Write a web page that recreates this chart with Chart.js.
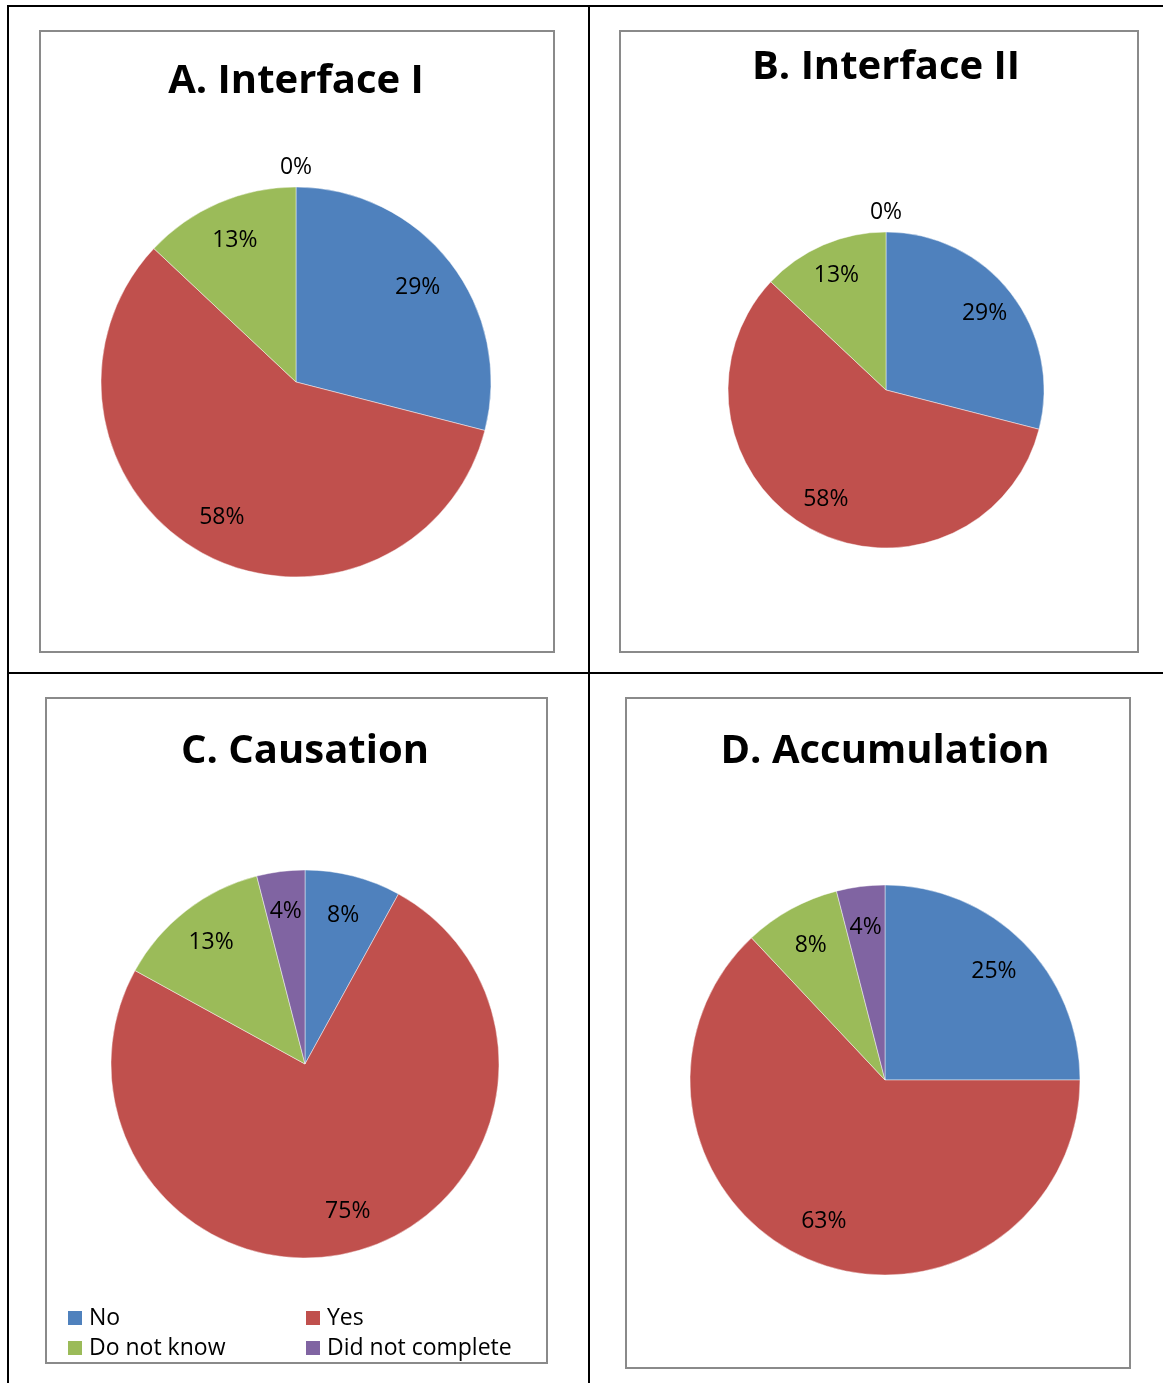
<!DOCTYPE html>
<html>
<head>
<meta charset="utf-8">
<title>Survey responses by task</title>
<script src="https://cdn.jsdelivr.net/npm/chart.js@4/dist/chart.umd.min.js"></script>
<style>
  html, body { margin: 0; padding: 0; background: #fff; }
  body { position: relative; width: 1163px; height: 1383px; overflow: hidden; }
  .rule { position: absolute; background: #000; }
  .panel { position: absolute; box-sizing: border-box; border: 2px solid #8a8a8a; background: #fff; }
  .panel canvas { display: block; }
</style>
</head>
<body>
<!-- table grid -->
<div class="rule" style="left:7px;top:5px;width:2px;height:1378px"></div>
<div class="rule" style="left:7px;top:5px;width:1156px;height:2px"></div>
<div class="rule" style="left:588px;top:5px;width:2px;height:1378px"></div>
<div class="rule" style="left:7px;top:672px;width:1156px;height:2px"></div>

<div class="panel" id="panelA"><canvas id="chartA"></canvas></div>
<div class="panel" id="panelB"><canvas id="chartB"></canvas></div>
<div class="panel" id="panelC"><canvas id="chartC"></canvas></div>
<div class="panel" id="panelD"><canvas id="chartD"></canvas></div>

<script>
// Response categories and the share (%) of participants in each
const categories = ['No', 'Yes', 'Do not know', 'Did not complete'];
const titles = ['A. Interface I', 'B. Interface II', 'C. Causation', 'D. Accumulation'];
const interfaceI   = [29, 58, 13, 0];
const interfaceII  = [29, 58, 13, 0];
const causation    = [8, 75, 13, 4];
const accumulation = [25, 63, 8, 4];
const sliceColors = ['#4F81BD', '#C0504D', '#9BBB59', '#8064A2'];

// Page placement of each framed chart: box = [left, top, width, height],
// titleY = title centre line, (cx, cy, r) = pie centre and radius.
const panels = [
  { canvas: 'chartA', panel: 'panelA', title: titles[0], values: interfaceI,
    box: [39, 30, 516, 623], titleY: 82, cx: 296, cy: 382, r: 195 },
  { canvas: 'chartB', panel: 'panelB', title: titles[1], values: interfaceII,
    box: [619, 30, 520, 623], titleY: 68, cx: 886, cy: 390, r: 158 },
  { canvas: 'chartC', panel: 'panelC', title: titles[2], values: causation,
    box: [45, 697, 503, 667], titleY: 752, cx: 305, cy: 1064, r: 194,
    legend: { x: 68, y: 1311, colGap: 238, rowGap: 30, size: 14 } },
  { canvas: 'chartD', panel: 'panelD', title: titles[3], values: accumulation,
    box: [625, 697, 506, 672], titleY: 752, cx: 885, cy: 1080, r: 195 }
];

const TITLE_SIZE = 40;
const LABEL_FONT = '23px "Open Sans", sans-serif';

// Percentage labels inside each slice; empty slices get theirs just outside the rim
const sliceLabels = {
  id: 'sliceLabels',
  afterDatasetsDraw(chart) {
    const ctx = chart.ctx;
    const meta = chart.getDatasetMeta(0);
    const data = chart.data.datasets[0].data;
    ctx.save();
    ctx.font = LABEL_FONT;
    ctx.fillStyle = '#000';
    ctx.textAlign = 'center';
    ctx.textBaseline = 'middle';
    meta.data.forEach((arc, i) => {
      const p = arc.getProps(['x', 'y', 'startAngle', 'endAngle', 'outerRadius'], true);
      const mid = (p.startAngle + p.endAngle) / 2;
      const dist = data[i] === 0 ? p.outerRadius + 20 : p.outerRadius * 0.79;
      ctx.fillText(data[i] + '%', p.x + Math.cos(mid) * dist, p.y + Math.sin(mid) * dist);
    });
    ctx.restore();
  }
};

// Two-column legend along the bottom of a frame
const gridLegend = {
  id: 'gridLegend',
  afterDraw(chart, args, opts) {
    if (!opts || !opts.display) return;
    const ctx = chart.ctx;
    const colors = chart.data.datasets[0].backgroundColor;
    ctx.save();
    ctx.font = LABEL_FONT;
    ctx.textAlign = 'left';
    ctx.textBaseline = 'alphabetic';
    chart.data.labels.forEach((label, i) => {
      const x = opts.x + (i % 2) * opts.colGap;
      const y = opts.y + Math.floor(i / 2) * opts.rowGap;
      ctx.fillStyle = colors[i];
      ctx.fillRect(x, y, opts.size, opts.size);
      ctx.fillStyle = '#000';
      ctx.fillText(label, x + opts.size + 7, y + opts.size - 0.5);
    });
    ctx.restore();
  }
};

panels.forEach(p => {
  const [left, top, w, h] = p.box;
  const el = document.getElementById(p.panel);
  el.style.left = left + 'px';
  el.style.top = top + 'px';
  el.style.width = w + 'px';
  el.style.height = h + 'px';

  const ox = left + 2, oy = top + 2;          // canvas origin inside the frame
  const cw = w - 4, ch = h - 4;
  const canvas = document.getElementById(p.canvas);
  canvas.width = cw;
  canvas.height = ch;

  const side = 2 * p.r + 1;
  const padLeft = p.cx - ox - p.r - 0.5;
  const padRight = cw - padLeft - side;
  const areaTop = p.cy - oy - p.r - 0.5;
  const padBottom = ch - areaTop - side;
  const titlePadTop = p.titleY - oy - 0.6 * TITLE_SIZE;
  const titlePadBottom = areaTop - titlePadTop - 1.2 * TITLE_SIZE;

  const legendOpts = p.legend
    ? { display: true, x: p.legend.x - ox, y: p.legend.y - oy,
        colGap: p.legend.colGap, rowGap: p.legend.rowGap, size: p.legend.size }
    : { display: false };

  new Chart(canvas, {
    type: 'pie',
    data: {
      labels: categories,
      datasets: [{
        data: p.values,
        backgroundColor: sliceColors,
        borderColor: 'rgba(255,255,255,0.45)',
        borderWidth: 1,
        hoverOffset: 0
      }]
    },
    options: {
      responsive: false,
      animation: false,
      devicePixelRatio: 1,
      layout: { padding: { left: padLeft, right: padRight, top: 0, bottom: padBottom } },
      plugins: {
        legend: { display: false },
        tooltip: { enabled: false },
        title: {
          display: true,
          text: p.title,
          color: '#000',
          font: { family: '"Open Sans", sans-serif', size: TITLE_SIZE, weight: 'bold', lineHeight: 1.2 },
          padding: { top: titlePadTop, bottom: titlePadBottom }
        },
        gridLegend: legendOpts
      }
    },
    plugins: [sliceLabels, gridLegend]
  });
});
</script>
</body>
</html>
